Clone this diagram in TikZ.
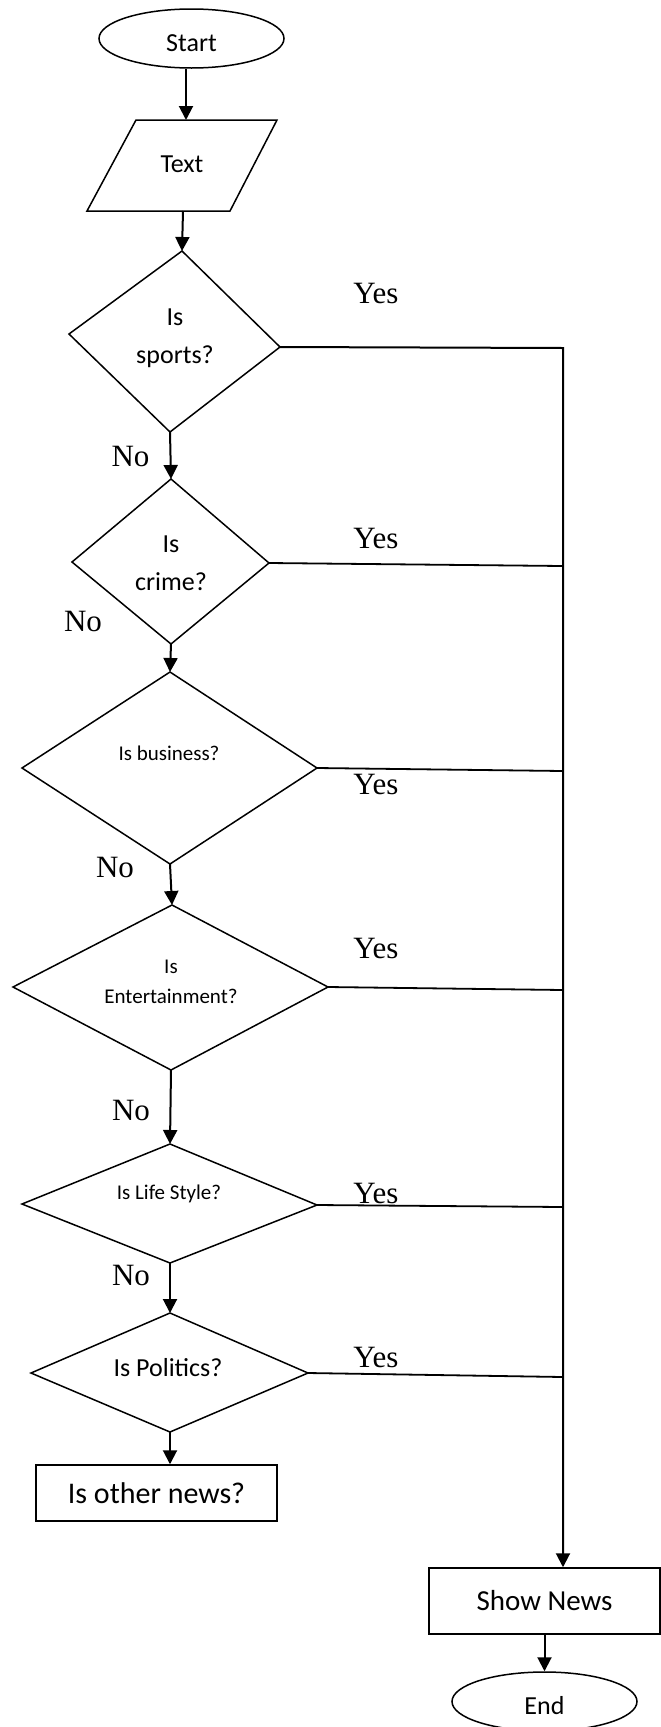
\documentclass[tikz,border=0pt]{standalone}
\usepackage{fontspec}
\setmainfont{Carlito}
\newfontfamily\tnr{Liberation Serif}
\usetikzlibrary{shapes.geometric,arrows.meta}
\begin{document}
\begin{tikzpicture}[x=1pt,y=-1pt,
  line width=1.5pt, line join=miter,
  arr/.style={line width=2pt,-{Triangle[length=14pt,width=14pt]}},
  yesline/.style={line width=1.8pt},
  term/.style={draw,ellipse,minimum width=185pt,minimum height=59pt,inner sep=0pt,
    text height=25pt,text depth=0pt,font=\fontsize{26}{30}\selectfont},
  boxnode/.style={draw,rectangle,inner sep=0pt},
  lbl/.style={font=\tnr\fontsize{31}{31}\selectfont,anchor=base,inner sep=0pt},
  qbig/.style={align=center,inner sep=0pt,font=\fontsize{26}{38}\selectfont},
  qsmall/.style={align=center,inner sep=0pt,font=\fontsize{21}{30}\selectfont}
]
\useasboundingbox (0,0) rectangle (661,1727);

% Start / End terminals
\node[term] (start) at (191.5,38.5) {Start};
\node[term] (end) at (544.5,1701.5) {End};

% Input parallelogram
\coordinate (p1) at (136,120);
\coordinate (p2) at (277,120);
\coordinate (p3) at (230,211);
\coordinate (p4) at (87,211);
\draw (p1) -- (p2) -- (p3) -- (p4) -- cycle;
\node[qbig] (txt) at (182,164) {Text};
\coordinate (txtin) at (186,120);
\coordinate (txtout) at (183,211);

% Decision diamonds (vertices)
\coordinate (sp-t) at (182,251);  \coordinate (sp-l) at (69,334);
\coordinate (sp-r) at (280,347);  \coordinate (sp-b) at (170,432);
\coordinate (cr-t) at (171,479);  \coordinate (cr-l) at (72,562);
\coordinate (cr-r) at (269,563);  \coordinate (cr-b) at (171,644);
\coordinate (bu-t) at (170,672);  \coordinate (bu-l) at (22,768);
\coordinate (bu-r) at (317,768);  \coordinate (bu-b) at (170,864);
\coordinate (en-t) at (172,905);  \coordinate (en-l) at (13,987);
\coordinate (en-r) at (328,987);  \coordinate (en-b) at (171,1070);
\coordinate (li-t) at (170,1144); \coordinate (li-l) at (22,1204);
\coordinate (li-r) at (317,1205); \coordinate (li-b) at (170,1263);
\coordinate (po-t) at (170,1313); \coordinate (po-l) at (31,1373);
\coordinate (po-r) at (308,1373); \coordinate (po-b) at (170,1432);

\foreach \d in {sp,cr,bu,en,li,po}
  \draw (\d-t) -- (\d-r) -- (\d-b) -- (\d-l) -- cycle;

\node[qbig] (sports) at (175,338) {Is\\sports?};
\node[qbig] (crime) at (171,563.5) {Is\\crime?};
\node[qsmall] (business) at (169,753) {Is business?};
\node[qsmall] (entert) at (171,982) {Is\\Entertainment?};
\node[qsmall] (life) at (169,1194) {Is Life Style?};
\node[qbig] (politics) at (168,1368) {Is Politics?};

% Boxes
\node[boxnode,minimum width=241pt,minimum height=56pt,font=\fontsize{30}{34}\selectfont] (other) at (156.5,1493) {Is other news?};
\node[boxnode,minimum width=231pt,minimum height=66pt,font=\fontsize{29}{34}\selectfont] (show) at (544.5,1601) {Show News};

% Trunk junctions
\coordinate (j1) at (563,348);
\coordinate (j2) at (563,566);
\coordinate (j3) at (563,771);
\coordinate (j4) at (563,990);
\coordinate (j5) at (563,1207);
\coordinate (j6) at (563,1377);

% Main flow
\draw[arr] (start.south -| txtin) -- (txtin);
\draw[arr] (txtout) -- (sp-t);
\draw[arr] (sp-b) -- (cr-t);
\draw[arr] (cr-b) -- (bu-t);
\draw[arr] (bu-b) -- (en-t);
\draw[arr] (en-b) -- (li-t);
\draw[arr] (li-b) -- (po-t);
\draw[arr] (po-b) -- (po-b |- other.north);

% Yes branches
\draw[arr] (sp-r) -- (j1) -- (j1 |- show.north);
\draw[yesline] (cr-r) -- (j2);
\draw[yesline] (bu-r) -- (j3);
\draw[yesline] (en-r) -- (j4);
\draw[yesline] (li-r) -- (j5);
\draw[yesline] (po-r) -- (j6);
\draw[arr] (show.south) -- (end.north);

% Labels
\node[lbl] (y1) at (376,303) {Yes};
\node[lbl] (y2) at (376,548) {Yes};
\node[lbl] (y3) at (376,794) {Yes};
\node[lbl] (y4) at (376,958) {Yes};
\node[lbl] (y5) at (376,1203) {Yes};
\node[lbl] (y6) at (376,1367) {Yes};
\node[lbl] (n1) at (130.5,466) {No};
\node[lbl] (n2) at (83,631) {No};
\node[lbl] (n3) at (115,877) {No};
\node[lbl] (n4) at (131,1120) {No};
\node[lbl] (n5) at (131,1285) {No};
\end{tikzpicture}
\end{document}
